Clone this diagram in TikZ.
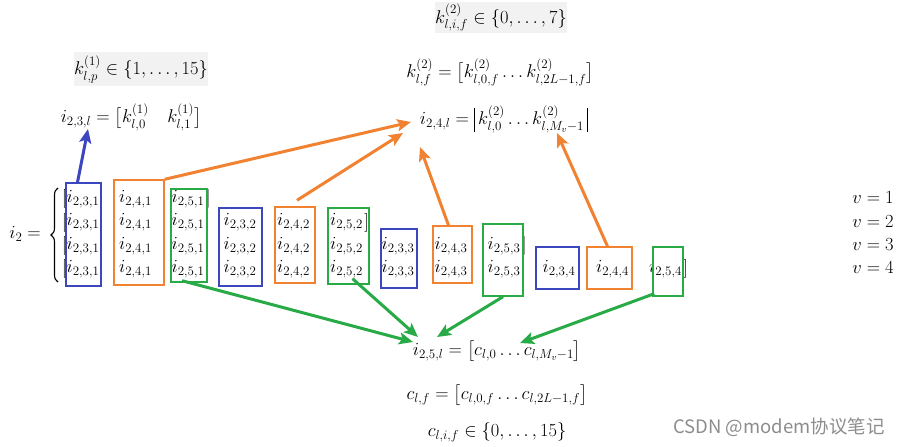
\RequirePackage{fix-cm}
\documentclass[tikz,border=0pt]{standalone}
\usepackage{amsmath}
\usepackage{fontspec}
\newfontfamily\cjkfont{Noto Sans CJK SC}
\usetikzlibrary{arrows.meta,decorations.pathreplacing}
\definecolor{cblue}{RGB}{60,70,190}
\definecolor{corange}{RGB}{240,130,50}
\definecolor{cgreen}{RGB}{40,170,70}
\definecolor{cgray}{RGB}{242,242,242}
\newcommand{\mybar}{\vrule width 1pt height 17pt depth 7pt}
\begin{document}
\begin{tikzpicture}[x=1pt,y=-1pt,
  every node/.style={font=\fontsize{18.5}{22}\selectfont, inner sep=0pt},
  graybox/.style={fill=cgray},
  colbox/.style={draw=#1, line width=1.4pt, fill=none},
  conn/.style={draw=#1, line width=3pt, -{Stealth[length=14pt,width=12pt,inset=3pt]}},
  bigbrace/.style={decorate, decoration={brace, amplitude=7pt, raise=0pt}, line width=1.1pt}
]
\useasboundingbox (0,0) rectangle (903,447);

% top equations
\node[graybox, minimum width=118, minimum height=31] (kset2) at (501,17.5) {$k^{(2)}_{l,i,f}\in\{0,\ldots,7\}$};
\node[graybox, minimum width=132, minimum height=34] (kset1) at (141,69) {$k^{(1)}_{l,p}\in\{1,\ldots,15\}$};
\node (klf) at (500,72) {$k^{(2)}_{l,f}=\bigl[k^{(2)}_{l,0,f}\ldots k^{(2)}_{l,2L-1,f}\bigr]$};
\node (i24) at (504,119) {$i_{2,4,l}=\mathopen{\mybar}\,k^{(2)}_{l,0}\ldots k^{(2)}_{l,M_v-1}\,\mathclose{\mybar}$};
\node (i23) at (131,117) {$i_{2,3,l}=\bigl[k^{(1)}_{l,0}\quad k^{(1)}_{l,1}\bigr]$};

% bottom equations
\node (i25) at (497,351) {$i_{2,5,l}=\bigl[c_{l,0}\ldots c_{l,M_v-1}\bigr]$};
\node (clf) at (497,395) {$c_{l,f}=\bigl[c_{l,0,f}\ldots c_{l,2L-1,f}\bigr]$};
\node (clif) at (497,432) {$c_{l,i,f}\in\{0,\ldots,15\}$};

% i_2 and brace
\node[anchor=east] (i2) at (41,234) {$i_2=$};
\coordinate (brbot) at (58,282);
\coordinate (brtop) at (58,188);
\draw[bigbrace] (brbot) -- (brtop);

% matrix cells
\foreach \j/\x in {1/83,2/135.5,3/188,4/240,5/293.5,6/346.5,7/398,8/451,9/504,10/559,11/612.5,12/665.5}{
  \pgfmathtruncatemacro{\v}{int((\j+2)/3)}
  \pgfmathtruncatemacro{\t}{mod(\j-1,3)+3}
  \foreach \r/\y in {1/199,2/222.5,3/246,4/269}{
    \ifnum\r<\v\relax\else
      \node (cell-\j-\r) at (\x,\y) {$i_{2,\t,\v}$};
    \fi
  }
}
% brackets
\foreach \r/\y in {1/199,2/222.5,3/246,4/269}{
  \node[anchor=east] (lb-\r) at (67,\y) {$[$};
}
\node[anchor=west] (rb-1) at ([xshift=1pt]cell-3-1.east) {$]$};
\node[anchor=west] (rb-2) at ([xshift=1pt]cell-6-2.east) {$]$};
\node[anchor=west] (rb-3) at ([xshift=1pt]cell-9-3.east) {$]$};
\node[anchor=west] (rb-4) at ([xshift=1pt]cell-12-4.east) {$]$};

% v labels
\node (v1) at (873,198) {$v=1$};
\node (v2) at (873,221.5) {$v=2$};
\node (v3) at (873,245) {$v=3$};
\node (v4) at (873,268) {$v=4$};

% column boxes
\node[colbox=cblue,   minimum width=35, minimum height=103] (b1)  at (83.5,234.5) {};
\node[colbox=corange, minimum width=50, minimum height=105] (b2)  at (139,232.5) {};
\node[colbox=cgreen,  minimum width=36, minimum height=93]  (b3)  at (189,235.5) {};
\node[colbox=cblue,   minimum width=43, minimum height=78]  (b4)  at (240.5,247) {};
\node[colbox=corange, minimum width=40, minimum height=76]  (b5)  at (295,245) {};
\node[colbox=cgreen,  minimum width=41, minimum height=76]  (b6)  at (348.5,246) {};
\node[colbox=cblue,   minimum width=36, minimum height=59]  (b7)  at (399,258.5) {};
\node[colbox=corange, minimum width=39, minimum height=57]  (b8)  at (452.5,254.5) {};
\node[colbox=cgreen,  minimum width=40, minimum height=72]  (b9)  at (503,260) {};
\node[colbox=cblue,   minimum width=43, minimum height=42]  (b10) at (557.5,268) {};
\node[colbox=corange, minimum width=45, minimum height=42]  (b11) at (609.5,268) {};
\node[colbox=cgreen,  minimum width=30, minimum height=49]  (b12) at (668,271.5) {};

% arrow targets
\coordinate (tb)  at (88,129);
\coordinate (to1) at (411,122);
\coordinate (to2) at (403,133);
\coordinate (to3) at (420,147);
\coordinate (to4) at (557,133);
\coordinate (tg1) at (413,342);
\coordinate (tg2) at (418,337);
\coordinate (tg3) at (437,337);
\coordinate (tg4) at (520,343);

% connectors
\draw[conn=cblue] ([xshift=-6pt]b1.north) -- (tb);
\draw[conn=corange] (b2.north east) -- (to1);
\draw[conn=corange] ([xshift=2pt,yshift=6pt]b5.north) -- (to2);
\draw[conn=corange] ([xshift=-4pt]b8.north) -- (to3);
\draw[conn=corange] ([xshift=-2pt]b11.north) -- (to4);
\draw[conn=cgreen] ([xshift=-7pt,yshift=2pt]b3.south) -- (tg1);
\draw[conn=cgreen] ([xshift=4pt,yshift=6pt]b6.south) -- (tg2);
\draw[conn=cgreen] (b9.south) -- (tg3);
\draw[conn=cgreen] ([xshift=2pt,yshift=3pt]b12.south west) -- (tg4);

% watermark
\node[font=\cjkfont\fontsize{18.5}{20}\selectfont, text=black!45] (wm) at (779,427) {CSDN @modem协议笔记};
\end{tikzpicture}
\end{document}
